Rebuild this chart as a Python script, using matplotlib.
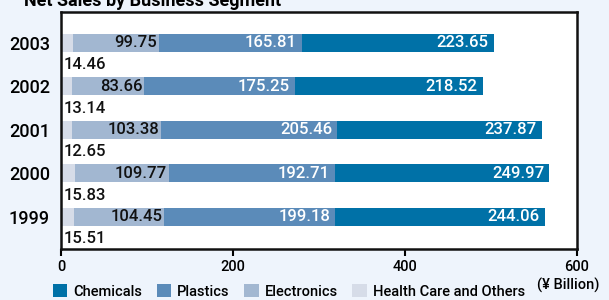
import matplotlib
matplotlib.use('Agg')
import matplotlib.pyplot as plt
from matplotlib.patches import Patch
import numpy as np

plt.rcParams['font.family'] = ['Roboto', 'DejaVu Sans']
plt.rcParams['font.weight'] = 'medium'

# ── Data ─────────────────────────────────────────────────────────────────────
years = ['1999', '2000', '2001', '2002', '2003']
health = [15.51, 15.83, 12.65, 13.14, 14.46]
electronics = [104.45, 109.77, 103.38, 83.66, 99.75]
plastics = [199.18, 192.71, 205.46, 175.25, 165.81]
chemicals = [244.06, 249.97, 237.87, 218.52, 223.65]

segments = ['Chemicals', 'Plastics', 'Electronics', 'Health Care and Others']
colors = {'Chemicals': '#0071a7', 'Plastics': '#5b8bb9',
          'Electronics': '#a2b7d1', 'Health Care and Others': '#d6dce8'}

bg = '#eef4fc'
fig = plt.figure(figsize=(6.09, 3.0), dpi=100, facecolor=bg)
ax = fig.add_axes([0.1, 0.17, 0.847, 0.79])

y = np.arange(len(years))
h = np.array(health)
e = np.array(electronics)
p = np.array(plastics)
c = np.array(chemicals)
bh = 0.41

ax.barh(y, h, height=bh, color=colors['Health Care and Others'])
ax.barh(y, e, left=h, height=bh, color=colors['Electronics'])
ax.barh(y, p, left=h + e, height=bh, color=colors['Plastics'])
ax.barh(y, c, left=h + e + p, height=bh, color=colors['Chemicals'])

fs = 12
for i in range(len(years)):
    ax.text(h[i] + e[i] - 2, y[i], f'{e[i]:.2f}', ha='right', va='center',
            fontsize=fs, color='#111111')
    ax.text(h[i] + e[i] + p[i] - 6, y[i], f'{p[i]:.2f}', ha='right', va='center',
            fontsize=fs, color='white')
    ax.text(h[i] + e[i] + p[i] + c[i] - 6, y[i], f'{c[i]:.2f}', ha='right',
            va='center', fontsize=fs, color='white')
    ax.text(3, y[i] - 0.5, f'{h[i]:.2f}', ha='left', va='center',
            fontsize=fs, color='#111111')

ax.set_xlim(0, 600)
ax.set_ylim(-0.74, 4.71)
ax.set_xticks([0, 200, 400, 600])
ax.set_xticklabels(['0', '200', '400', '600'], fontsize=10.5)
ax.set_yticks(y)
ax.set_yticklabels(years, fontsize=13)
ax.tick_params(axis='y', length=0, pad=8)
ax.tick_params(axis='x', direction='out', length=5, width=1.5, pad=3)
for s in ax.spines.values():
    s.set_linewidth(1.8)
    s.set_color('#111111')

fig.text(0.985, 0.05, '(¥ Billion)', ha='right', va='center', fontsize=10.5)
fig.text(0.04, 0.995, 'Net Sales by Business Segment', ha='left', va='center',
         fontsize=13, fontweight='bold')

handles = [Patch(facecolor=colors[s], label=s) for s in segments]
fig.legend(handles=handles, loc='lower left', bbox_to_anchor=(0.065, -0.04),
           ncol=4, frameon=False, fontsize=10.5, handlelength=1.0,
           handleheight=1.0, handletextpad=0.4, columnspacing=1.0)

fig.savefig('out.png', dpi=100, facecolor=bg)
